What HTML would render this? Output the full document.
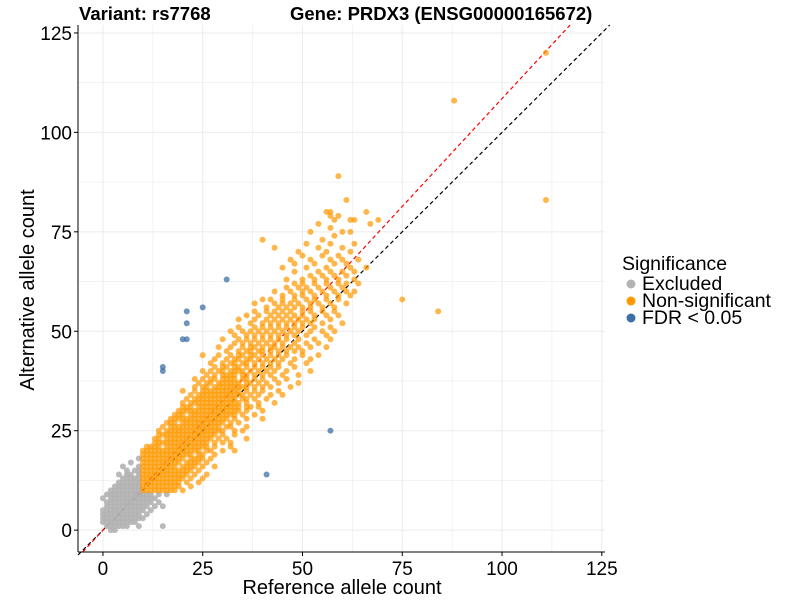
<!DOCTYPE html>
<html><head><meta charset="utf-8"><style>
body{margin:0;background:#fff;}
svg text{font-family:"Liberation Sans",Arial,sans-serif;}
</style></head><body>
<svg id="chart" width="800" height="600" viewBox="0 0 800 600">
<text x="79" y="20" font-size="18.5" font-weight="bold">Variant: rs7768</text>
<text x="290" y="20" font-size="18.5" font-weight="bold">Gene: PRDX3 (ENSG00000165672)</text>
<g id="grid"></g>
<g id="lines"></g>
<g id="pts"></g>
<g id="axes"></g>
<text x="342" y="594" font-size="20" text-anchor="middle">Reference allele count</text>
<text transform="translate(34,290) rotate(-90)" font-size="20" text-anchor="middle">Alternative allele count</text>
<g>
<text x="622" y="270" font-size="19.5">Significance</text>
<g><circle cx="631" cy="284" r="4.5" fill="#b3b3b3"/><text x="642" y="290" font-size="19.5">Excluded</text></g>
<g><circle cx="631" cy="301" r="4.5" fill="#ff9900"/><text x="642" y="307" font-size="19.5">Non-significant</text></g>
<g><circle cx="631" cy="318" r="4.5" fill="#3d6fa8"/><text x="642" y="324" font-size="19.5">FDR &lt; 0.05</text></g>
</g>
</svg>
<script>
const xTicks=[0,25,50,75,100,125];
const yTicks=[0,25,50,75,100,125];
const grayRows=[[0,[2,3]],[1,[1,2,3,4,5,6,9,15]],[2,[0,1,2,3,4,5,6,7,8]],[3,[0,1,2,3,4,5,6,7,8,9,10]],[4,[0,1,2,3,4,5,6,7,8,9,11]],[5,[0,1,2,3,4,5,6,7,8,9,10,12]],[6,[1,2,3,4,5,6,7,8,9,10,11,13,15]],[7,[1,2,3,4,5,6,7,8,9,10,11,12,14]],[8,[0,2,3,4,5,6,7,8,9,10,11,12,13]],[9,[1,2,3,4,5,6,7,8,9,10,11,12,14,16]],[10,[2,3,4,5,6,7,8,9]],[11,[3,4,5,6,7,8,9]],[12,[4,5,6,7,8,9]],[13,[5,6,7,8,9]],[14,[4,6,7,9]],[15,[6,8,9]],[16,[5,9]],[17,[7]],[18,[9]]];
const orangeRows=[[10,[10,11,12,13,14,15,16,17,18,20]],[11,[10,11,12,13,14,15,16,17,18,19,22]],[12,[10,11,12,13,14,15,16,17,18,19,21,24]],[13,[10,11,12,13,14,15,16,17,18,19,20,22,25]],[14,[10,11,12,13,14,15,16,17,18,19,20,21,23,26]],[15,[10,11,12,13,14,15,16,17,18,19,20,21,22,24]],[16,[10,11,12,13,14,15,16,17,18,20,21,22,23,25,28]],[17,[10,11,12,13,14,15,16,17,18,19,21,22,23,24,26]],[18,[10,11,12,13,14,15,16,17,18,19,20,22,23,24,25,27]],[19,[10,11,12,13,14,15,16,17,18,19,20,21,22,24,25,28]],[20,[10,11,12,13,14,15,16,17,18,19,20,21,22,23,24,26,27,30,33]],[21,[11,12,13,14,16,17,18,19,20,21,22,23,24,25,26,28,32]],[22,[13,14,15,16,17,18,19,20,21,22,23,24,25,26,28,30,32]],[23,[13,14,16,17,18,19,20,21,22,23,24,25,26,27,29,31,36]],[24,[14,15,16,17,18,19,20,21,22,23,24,25,26,27,28,30,33]],[25,[14,16,17,18,19,20,21,22,23,24,25,26,27,28,29,30,33,35]],[26,[15,17,18,19,20,21,22,23,24,25,26,27,28,29,31,32,36]],[27,[16,17,18,20,21,22,23,24,25,26,27,28,29,30,32,34]],[28,[17,18,19,20,21,22,23,24,25,26,27,28,29,30,31,33,36,40]],[29,[18,19,20,22,23,24,25,26,27,28,29,30,31,32,33,35,38]],[30,[19,20,21,22,23,24,25,26,27,28,29,30,31,32,33,34,36,40]],[31,[20,21,22,24,25,26,27,28,29,30,31,32,33,34,36,37,39]],[32,[20,22,23,24,25,26,27,28,29,30,31,32,33,34,36,39,43]],[33,[21,23,24,25,26,27,28,29,30,31,32,33,35,36,38,41]],[34,[22,24,25,26,27,28,29,30,31,32,33,34,35,37,39,42,45]],[35,[20,23,25,26,27,28,29,30,31,32,33,34,36,38,40,44]],[36,[23,25,26,28,29,30,31,32,33,34,35,36,38,40,42,47]],[37,[24,26,27,29,30,31,32,33,34,36,37,39,41,44,49]],[38,[23,25,27,28,30,31,32,33,35,36,38,40,43,46]],[39,[26,28,30,31,32,33,35,36,38,40,42,45,49]],[40,[25,27,29,30,32,33,34,35,37,39,41,43,46,52]],[41,[28,30,31,33,34,36,38,40,42,44,48]],[42,[27,30,32,33,35,36,38,40,42,44,47,51]],[43,[28,31,33,34,36,37,39,41,43,45,48,52]],[44,[25,29,32,34,35,37,38,40,42,44,46,50,54]],[45,[31,34,36,37,39,40,42,44,46,48,50]],[46,[29,32,35,37,38,40,42,43,45,47,49,52,56]],[47,[33,35,37,39,41,43,45,48,51,54]],[48,[30,34,36,38,40,42,44,46,49,53,57]],[49,[33,36,38,40,42,44,46,48,51,56]],[50,[32,35,37,39,41,43,45,47,49,52,55,58]],[51,[34,38,40,42,44,46,48,50,53,57]],[52,[37,40,42,44,46,48,50,52,55,60]],[53,[34,38,41,43,45,47,49,51,53,57]],[54,[36,39,42,44,46,48,50,53,56,59]],[55,[38,41,43,45,47,50,52,55,58,84]],[56,[41,44,46,48,50,52,55,58]],[57,[38,43,45,47,49,52,54,57,61]],[58,[40,42,45,48,51,53,56,59,75]],[59,[45,48,50,53,56,59,62]],[60,[43,47,50,52,55,58,61,63]],[61,[46,49,51,54,57,60]],[62,[48,50,53,56,59,61,64]],[63,[46,50,53,56,59,63]],[64,[52,55,58,61]],[65,[48,54,57,60,63]],[66,[45,51,56,62,66]],[67,[48,53,58,61]],[68,[47,52,57,60,64]],[69,[50,55,59]],[70,[49,56,62]],[71,[43,54,60]],[72,[51,57,63]],[73,[40,55]],[74,[58]],[75,[52,60,62]],[76,[57]],[77,[54,67]],[78,[58,62,63,69]],[79,[57,59]],[80,[56,57,66]],[83,[61,111]],[89,[59]],[108,[88]],[120,[111]]];
const blueRef=[31,25,21,21,20,21,15,15,57,41];
const blueAlt=[63,56,55,52,48,48,41,40,25,14];
const x0=78,x1=605,y0=552,y1=25,dxMin=-6.25,dxMax=125.8,dyMin=-5.5,dyMax=127;
const sx=v=>x0+(v-dxMin)/(dxMax-dxMin)*(x1-x0);
const sy=v=>y0-(v-dyMin)/(dyMax-dyMin)*(y0-y1);
const NS='http://www.w3.org/2000/svg';
function mk(tag,attrs,parent){const e=document.createElementNS(NS,tag);for(const k in attrs)e.setAttribute(k,attrs[k]);parent.appendChild(e);return e;}
const grid=document.getElementById('grid'),axes=document.getElementById('axes'),pts=document.getElementById('pts'),lines=document.getElementById('lines');
for(let v=-12.5;v<=125;v+=12.5){
 if(v>=dxMin){const g=mk('line',{x1:sx(v),x2:sx(v),y1:y1,y2:y0,stroke:'#ebebeb','stroke-width':v%25===0?1:0.6},grid);}
 if(v>=dyMin){const g=mk('line',{x1:x0,x2:x1,y1:sy(v),y2:sy(v),stroke:'#ebebeb','stroke-width':v%25===0?1:0.6},grid);}
}
const bl=mk('line',{x1:sx(-6.25),y1:sy(-6.25),x2:sx(127),y2:sy(127),stroke:'#000','stroke-width':1.2,'stroke-dasharray':'4,3'},lines);


const slope=1.085;
const rl=mk('line',{x1:sx(-5.5/slope),y1:sy(-5.5),x2:sx(127/slope),y2:sy(127),stroke:'#ff0000','stroke-width':1.2,'stroke-dasharray':'4,3'},lines);


function dot(r,a,fill,op,name){const c=mk('circle',{cx:sx(r),cy:sy(a),r:3,fill:fill,'fill-opacity':op},pts);}
grayRows.forEach(([a,refs])=>refs.forEach(r=>dot(r,a,'#b3b3b3',0.9,'point-excluded')));
orangeRows.forEach(([a,refs])=>refs.forEach(r=>dot(r,a,'#ff9900',0.7,'point-non-significant')));
blueRef.forEach((r,i)=>dot(r,blueAlt[i],'#3d6fa8',0.75,'point-fdr'));
mk('line',{x1:x0,x2:x0,y1:y1,y2:y0,stroke:'#000','stroke-width':1},axes);
mk('line',{x1:x0,x2:x1,y1:y0,y2:y0,stroke:'#000','stroke-width':1},axes);
xTicks.forEach(t=>{mk('line',{x1:sx(t),x2:sx(t),y1:y0,y2:y0+4,stroke:'#000'},axes);const tx=mk('text',{x:sx(t),y:y0+23,'font-size':19,'text-anchor':'middle'},axes);tx.textContent=t;});
yTicks.forEach(t=>{mk('line',{x1:x0-4,x2:x0,y1:sy(t),y2:sy(t),stroke:'#000'},axes);const tx=mk('text',{x:x0-6,y:sy(t)+7,'font-size':19,'text-anchor':'end'},axes);tx.textContent=t;});
</script>
</body></html>
